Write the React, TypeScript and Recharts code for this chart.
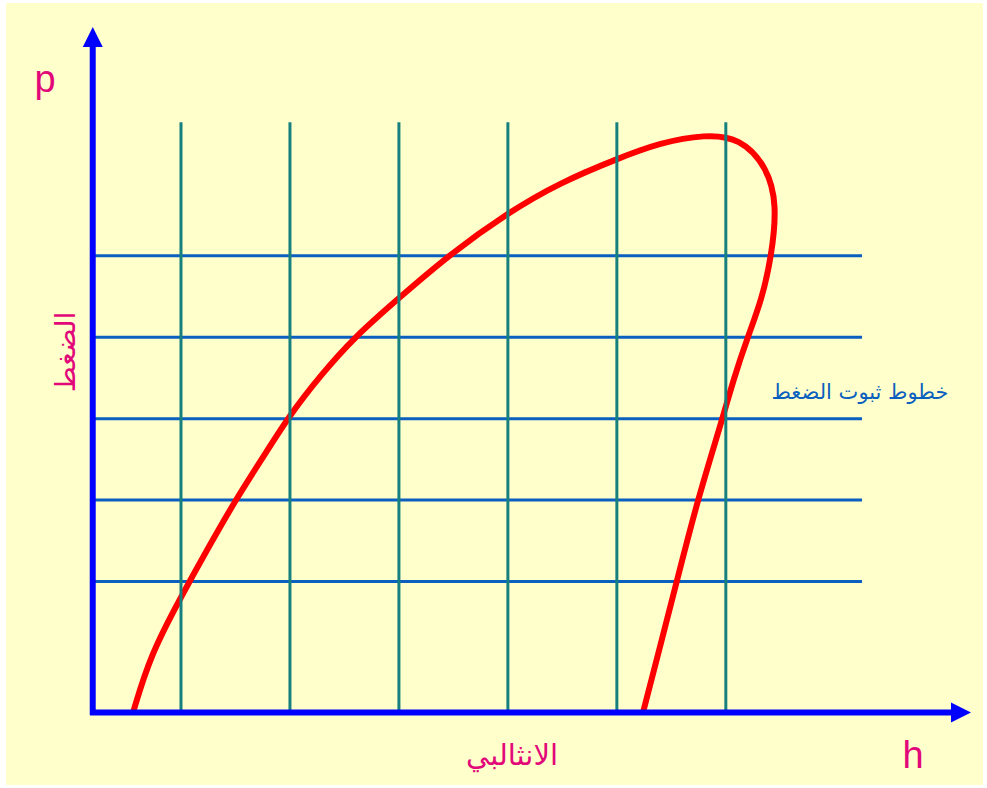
import React from 'react';
import { LineChart, Line, XAxis, YAxis, ReferenceDot } from 'recharts';

// enthalpy (h) and pressure (p) in chart units
const H_MIN = 19;
const H_MAX = 825;
const P_MIN = 3.9;
const P_MAX = 88.1;

const H_LINES = [100, 200, 300, 400, 500, 600]; // constant enthalpy lines
const P_LINES = [20, 30, 40, 50, 60]; // constant pressure lines
const H_LINE_TOP = 76.4;
const P_LINE_END = 725;

// saturation dome, traced left leg -> top -> right leg
const domeH = [56, 56, 72, 100, 124, 150, 175, 200, 228, 259, 300, 345, 400, 448, 500, 540, 581, 613, 638, 647, 642, 633, 620, 607, 597, 574, 555, 540, 524, 524];
const domeP = [3.9, 3.9, 11.0, 18.1, 23.9, 30, 35.2, 40.5, 45.3, 50, 54.8, 60, 65.3, 69.0, 71.9, 73.9, 74.9, 74.5, 70.9, 66.3, 60, 54.6, 50, 44.8, 40, 30, 20, 12.2, 3.9, 3.9];

const dome = domeH.map((h, i) => ({ h, p: domeP[i] }));

const AXIS_BLUE = '#0000ff';
const TEAL = '#17807e';
const P_BLUE = '#0b5fbf';
const MAGENTA = '#e2087a';

const upArrow = (props: any) => {
  const { cx, cy } = props;
  return <polygon points={`${cx},${cy} ${cx - 10},${cy + 20} ${cx + 10},${cy + 20}`} fill={AXIS_BLUE} />;
};

const rightArrow = (props: any) => {
  const { cx, cy } = props;
  return <polygon points={`${cx},${cy} ${cx - 20},${cy - 10} ${cx - 20},${cy + 10}`} fill={AXIS_BLUE} />;
};

export default function App() {
  return (
    <div style={{ position: 'absolute', left: 0, top: 0, width: 987, height: 788, background: '#ffffff' }}>
      <div style={{ position: 'absolute', left: 6, top: 3, width: 977, height: 782, background: '#ffffcc' }} />
      <div style={{ position: 'absolute', left: 0, top: 0 }}>
        <LineChart width={987} height={788} margin={{ top: 27, right: 16, bottom: 73, left: 90 }}>
          <XAxis type="number" dataKey="h" domain={[H_MIN, H_MAX]} hide />
          <YAxis type="number" dataKey="p" domain={[P_MIN, P_MAX]} hide />
          {P_LINES.map((p) => (
            <Line
              key={'p' + p}
              data={[{ h: H_MIN, p }, { h: P_LINE_END, p }]}
              dataKey="p"
              stroke={P_BLUE}
              strokeWidth={3}
              dot={false}
              activeDot={false}
              isAnimationActive={false}
            />
          ))}
          <Line
            data={dome}
            dataKey="p"
            type="basis"
            stroke="#ff0000"
            strokeWidth={6}
            dot={false}
            activeDot={false}
            isAnimationActive={false}
          />
          {H_LINES.map((h) => (
            <Line
              key={'h' + h}
              data={[{ h, p: P_MIN }, { h, p: H_LINE_TOP }]}
              dataKey="p"
              stroke={TEAL}
              strokeWidth={3}
              dot={false}
              activeDot={false}
              isAnimationActive={false}
            />
          ))}
          <Line
            data={[{ h: H_MIN, p: P_MIN - 0.3 }, { h: H_MIN, p: P_MAX - 2 }]}
            dataKey="p"
            stroke={AXIS_BLUE}
            strokeWidth={6}
            dot={false}
            activeDot={false}
            isAnimationActive={false}
          />
          <Line
            data={[{ h: H_MIN - 2.5, p: P_MIN }, { h: H_MAX - 15, p: P_MIN }]}
            dataKey="p"
            stroke={AXIS_BLUE}
            strokeWidth={6}
            dot={false}
            activeDot={false}
            isAnimationActive={false}
          />
          <ReferenceDot x={H_MIN} y={P_MAX} ifOverflow="visible" shape={upArrow} />
          <ReferenceDot x={H_MAX} y={P_MIN} ifOverflow="visible" shape={rightArrow} />
        </LineChart>
      </div>
      <svg width={987} height={788} style={{ position: 'absolute', left: 0, top: 0, pointerEvents: 'none' }}>
        <text x={45} y={92} textAnchor="middle" fontFamily="Liberation Sans, Arial, sans-serif" fontSize={38} fill={MAGENTA}>p</text>
        <text x={913} y={768} textAnchor="middle" fontFamily="Liberation Sans, Arial, sans-serif" fontSize={38} fill={MAGENTA}>h</text>
        <text x={512} y={765} textAnchor="middle" fontFamily="DejaVu Sans, sans-serif" fontSize={29} fill={MAGENTA}>الانثالبي</text>
        <text x={75} y={352} textAnchor="middle" transform="rotate(-90, 75, 352)" fontFamily="DejaVu Sans, sans-serif" fontSize={28} fill={MAGENTA}>الضغط</text>
        <text x={860} y={399} textAnchor="middle" fontFamily="DejaVu Sans, sans-serif" fontSize={21} fill={P_BLUE}>خطوط ثبوت الضغط</text>
      </svg>
    </div>
  );
}
